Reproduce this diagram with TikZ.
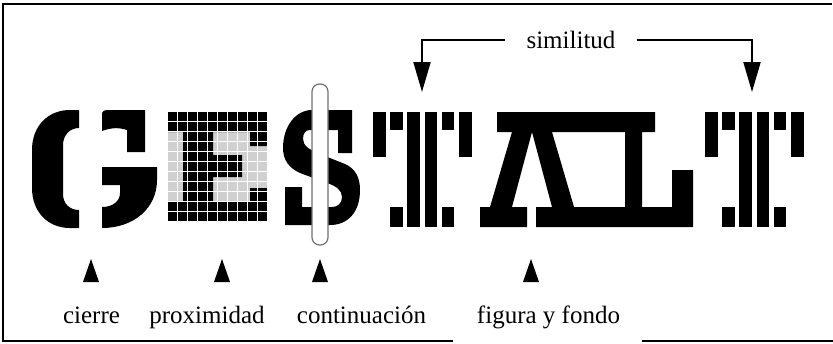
\documentclass[tikz,border=0pt]{standalone}
\usepackage{fontspec}
\setmainfont{Liberation Serif}
\usetikzlibrary{arrows.meta}
\definecolor{gridgray}{HTML}{D0D0D0}
\definecolor{clipgray}{HTML}{707070}
\begin{document}
\begin{tikzpicture}[x=1pt,y=-1pt,
  lbl/.style={font=\fontsize{25}{30}\selectfont, inner sep=0pt, anchor=base},
  framel/.style={line width=1.6pt},
  simarrow/.style={line width=2pt, -{Triangle[width=17pt,length=30pt]}},
  ptr/.style={fill=black},
  ink/.style={fill=black}]
\useasboundingbox (0,0) rectangle (833,343);
% frame
\draw[framel] (453,341) -- (3,341) -- (3,4) -- (832,4);
\draw[framel] (642,341) -- (833,341);

% G (split)
\fill[ink] (79,110) -- (70,110) .. controls (48,110) and (32,126) .. (32,150)
  -- (32,188) .. controls (32,212) and (48,228) .. (70,228) -- (79,228)
  -- (79,210) .. controls (70,210) and (63,204) .. (63,194)
  -- (63,145) .. controls (63,135) and (70,128) .. (79,128) -- cycle;
\fill[ink] (102,113) .. controls (103,111) and (104,110) .. (107,110) -- (145,110)
  -- (145,152) -- (127,152) -- (127,130) .. controls (118,127) and (110,128) .. (102,131) -- cycle;
\fill[ink] (102,167) -- (157,167) -- (157,180) .. controls (157,208) and (134,228) .. (102,228)
  -- (102,207) .. controls (113,207) and (120,201) .. (120,193) -- (120,185) -- (102,185) -- cycle;

% E (grid)
\foreach \i in {0,...,9}{\foreach \j in {0,...,10}{
  \fill[gridgray] (168+10*\i,112+10*\j) rectangle ++(8.5,8.5);}}
\begin{scope}
  \clip (168,112) rectangle (268,132) (183,112) rectangle (213,222)
        (183,155) rectangle (242,177) (250,112) rectangle (268,146)
        (250,188) rectangle (268,222) (168,202) rectangle (268,222);
  \foreach \i in {0,...,9}{\foreach \j in {0,...,10}{
    \fill[ink] (168+10*\i,112+10*\j) rectangle ++(8.5,8.5);}}
\end{scope}

% S
\fill[ink] (352,110) -- (352,153) -- (338,153) -- (338,130) -- (310,130)
  .. controls (305,130) and (303,134) .. (303,139)
  .. controls (303,146) and (310,150) .. (320,154) -- (345,164)
  .. controls (356,169) and (360,178) .. (360,190)
  .. controls (360,212) and (348,225) .. (330,225) -- (285,225) -- (285,187)
  -- (302,187) -- (302,207) -- (332,207)
  .. controls (338,207) and (342,203) .. (342,197)
  .. controls (342,190) and (336,186) .. (327,183) -- (300,173)
  .. controls (289,168) and (283,160) .. (283,148)
  .. controls (283,126) and (296,110) .. (312,110) -- cycle;
% occluding strip
\draw[draw=clipgray, fill=white, line width=1.2pt, rounded corners=7.5pt] (312,84) rectangle (328,245);

% T stripes (two T's)
\foreach \ox in {0,332}{
  \fill[ink] (373+\ox,112) rectangle ++(12.5,45);
  \fill[ink] (390.2+\ox,112) rectangle ++(12.5,18);
  \fill[ink] (390.2+\ox,207) rectangle ++(12.5,20);
  \fill[ink] (407.4+\ox,112) rectangle ++(12.5,115);
  \fill[ink] (424.6+\ox,112) rectangle ++(12.5,115);
  \fill[ink] (441.8+\ox,112) rectangle ++(12.5,18);
  \fill[ink] (441.8+\ox,207) rectangle ++(12.5,20);
  \fill[ink] (459+\ox,112) rectangle ++(12.5,45);
}

% A and L (figure / ground)
\fill[ink, even odd rule] (497,112) -- (655,112) -- (655,132) -- (642,132) -- (642,207)
  -- (672,207) -- (672,170) -- (693,170) -- (693,227) -- (536,227) -- (536,207)
  -- (552,207) -- (532,132) -- (512,207) -- (527,207) -- (527,227) -- (480,227)
  -- (480,207) -- (490,207) -- (512,132) -- (497,132) -- cycle
  (552,132) -- (625,132) -- (625,207) -- (574,207) -- cycle;

% similitud
\node[lbl, anchor=center, inner xsep=21pt] (sim) at (571,40) {similitud};
\coordinate (tleft) at (422,92);
\coordinate (tright) at (752,92);
\draw[simarrow] (sim.west) -| (tleft);
\draw[simarrow] (sim.east) -| (tright);

% pointers
\foreach \px in {91,222,320,531}{
  \fill[ptr] (\px,259) -- ++(8,23) -- ++(-16,0) -- cycle;}

% labels
\node[lbl] (cierre) at (91.5,323) {cierre};
\node[lbl] (prox) at (207,323) {proximidad};
\node[lbl] (cont) at (361.5,323) {continuación};
\node[lbl] (fig) at (548.5,323) {figura y fondo};
\end{tikzpicture}
\end{document}
